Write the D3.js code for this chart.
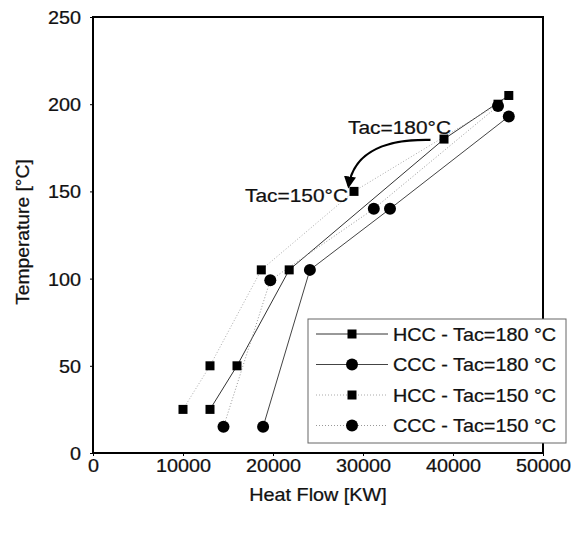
<!DOCTYPE html>
<html><head><meta charset="utf-8">
<script src="https://cdn.jsdelivr.net/npm/d3@7"></script>
<style>body{margin:0;background:#fff}text{font-family:"Liberation Sans",Arial,sans-serif;fill:#111;stroke:#111;stroke-width:0.25px}</style>
</head><body>
<svg id="c" width="572" height="533"></svg>
<script>
const xTicks = [0,10000,20000,30000,40000,50000];
const yTicks = [0,50,100,150,200,250];
const hcc180 = [[13000,25],[16000,50],[21800,105],[39000,180],[46200,205]];
const ccc180 = [[18900,15],[24100,105],[33000,140],[46200,193]];
const hcc150 = [[10000,25],[13000,50],[18700,105],[29000,150],[45000,200]];
const ccc150 = [[14500,15],[19700,99],[31200,140],[45000,199]];
const seriesNames = ["HCC - Tac=180 °C","CCC - Tac=180 °C","HCC - Tac=150 °C","CCC - Tac=150 °C"];

const svg = d3.select("#c");
const L=93,R=543,T=17,B=453;
const SX=1.1;
const x = d3.scaleLinear().domain([0,50000]).range([L,R]);
const y = d3.scaleLinear().domain([0,250]).range([B,T]);

const series = [
  {d:hcc180, m:"sq", stroke:"#333", dash:null, w:1},
  {d:ccc180, m:"ci", stroke:"#444", dash:null, w:1},
  {d:hcc150, m:"sq", stroke:"#aaa", dash:"1,2", w:1},
  {d:ccc150, m:"ci", stroke:"#999", dash:"1,2", w:1}
];
const line = d3.line().x(d=>x(d[0])).y(d=>y(d[1]));

function marker(g, m, cx, cy){
  if(m==="sq") g.append("rect").attr("x",cx-4.5).attr("y",cy-4.5).attr("width",9).attr("height",9).attr("fill","#000");
  else g.append("circle").attr("cx",cx).attr("cy",cy).attr("r",6).attr("fill","#000");
}
function label(g, tx, ty, txt, size, anchor, rot){
  return g.append("text")
    .attr("transform",`translate(${tx},${ty})${rot?` rotate(${rot})`:""} scale(${SX},1)`)
    .attr("text-anchor",anchor||"start").attr("font-size",size).text(txt);
}

series.forEach(s=>{
  svg.append("path").attr("d",line(s.d)).attr("fill","none").attr("stroke",s.stroke)
    .attr("stroke-width",s.w).attr("stroke-dasharray",s.dash);
});
series.forEach(s=>{
  const g=svg.append("g");
  s.d.forEach(p=>marker(g,s.m,x(p[0]),y(p[1])));
});

// axes
const xa = svg.append("g").attr("transform",`translate(0,${B})`)
  .call(d3.axisBottom(x).tickValues(xTicks).tickSize(3).tickFormat(d3.format("d")));
const ya = svg.append("g").attr("transform",`translate(${L},0)`)
  .call(d3.axisLeft(y).tickValues(yTicks).tickSize(3).tickFormat(d3.format("d")));
[xa,ya].forEach(a=>{
  a.select(".domain").remove();
  a.selectAll("line").attr("stroke","#000");
  a.selectAll("text").attr("font-size",18).attr("transform",`scale(${SX},1)`);
});
xa.selectAll("text").attr("y",6).attr("dy","13px");
ya.selectAll("text").attr("x",-11).attr("dy","0.36em");

// frame
svg.append("rect").attr("x",L).attr("y",T).attr("width",R-L).attr("height",B-T)
  .attr("fill","none").attr("stroke","#000").attr("stroke-width",2);

// titles
label(svg,(L+R)/2,501,"Heat Flow [KW]",18,"middle");
label(svg,29,(T+B)/2-3,"Temperature [°C]",17.5,"middle",-90);

// annotations
svg.append("defs").append("marker").attr("id","ah").attr("viewBox","0 0 10 10").attr("refX",8).attr("refY",5)
  .attr("markerWidth",5.5).attr("markerHeight",5.5).attr("orient","auto")
  .append("path").attr("d","M0,0L10,5L0,10z").attr("fill","#000");
const a0=[x(37500),y(179.5)], a1=[x(28400),y(153)];
svg.append("path").attr("d",`M${a0[0]},${a0[1]} C${x(33000)},${y(180)} ${x(29000)},${y(174)} ${a1[0]},${a1[1]}`)
  .attr("fill","none").attr("stroke","#000").attr("stroke-width",2.2).attr("marker-end","url(#ah)");
label(svg,348,134,"Tac=180°C",19,"start");
label(svg,245,202,"Tac=150°C",19,"start");

// legend
const lg = svg.append("g");
lg.append("rect").attr("x",308).attr("y",319).attr("width",258).attr("height",124)
  .attr("fill","#fff").attr("stroke","#666").attr("stroke-width",1);
series.forEach((s,i)=>{
  const yy = 334 + i*30.5;
  lg.append("line").attr("x1",316).attr("x2",388).attr("y1",yy).attr("y2",yy)
    .attr("stroke",s.stroke).attr("stroke-width",s.w).attr("stroke-dasharray",s.dash);
  marker(lg,s.m,352,yy);
  label(lg,393,yy+6.5,seriesNames[i],18,"start");
});
</script>
</body></html>
